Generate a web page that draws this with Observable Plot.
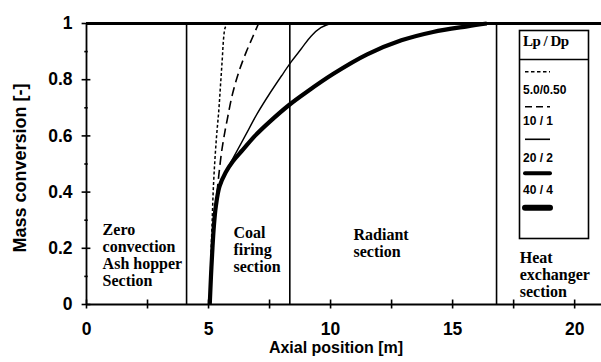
<!DOCTYPE html>
<html>
<head>
<meta charset="utf-8">
<script src="https://cdn.jsdelivr.net/npm/d3@7"></script>
<script src="https://cdn.jsdelivr.net/npm/@observablehq/plot@0.6"></script>
<style>
  html, body { margin: 0; padding: 0; background: #fff; }
  #chart { position: relative; width: 601px; height: 362px; }
</style>
</head>
<body>
<div id="chart"></div>
<script>
// ---- data ----
const xTicks = [0, 5, 10, 15, 20];
const xTickLabels = ["0", "5", "10", "15", "20"];
const xMinorTicks = [2.5, 7.5, 12.5, 17.5];
const yTicks = [0, 0.2, 0.4, 0.6, 0.8, 1];
const yTickLabels = ["0", "0.2", "0.4", "0.6", "0.8", "1"];
const yMinorTicks = [0.1, 0.3, 0.5, 0.7, 0.9];

const sectionBounds = [4.1, 8.33, 16.8];
const sectionLabels = [
  "Zero\nconvection\nAsh hopper\nSection",
  "Coal\nfiring\nsection",
  "Radiant\nsection",
  "Heat\nexchanger\nsection"
];
const sectionLabelX = [0.66, 6.02, 10.94, 17.75];
const sectionLabelY = [0.175, 0.195, 0.22, 0.105];

const seriesNames = ["5.0/0.50", "10 / 1", "20 / 2", "40 / 4"];
const legendTitle = "Lp / Dp";

const dottedX = [5.05, 5.08, 5.11, 5.15, 5.19, 5.25, 5.33, 5.42, 5.49, 5.56, 5.62, 5.68, 5.78];
const dottedY = [0, 0.1, 0.2, 0.3, 0.4, 0.5, 0.6, 0.69, 0.78, 0.87, 0.95, 0.985, 1];

const dashedX = [5.05, 5.1, 5.16, 5.22, 5.29, 5.36, 5.44, 5.53, 5.64, 5.77, 5.97, 6.25, 6.55, 6.8, 7.05];
const dashedY = [0, 0.1, 0.2, 0.28, 0.345, 0.41, 0.475, 0.54, 0.6, 0.66, 0.745, 0.83, 0.9, 0.95, 1];

const thinX = [5.05, 5.1, 5.16, 5.22, 5.3, 5.45, 5.7, 6.0, 6.5, 7.0, 7.5, 8.0, 8.4, 8.8, 9.2, 9.6, 10.0];
const thinY = [0, 0.1, 0.2, 0.28, 0.35, 0.42, 0.47, 0.52, 0.6, 0.68, 0.75, 0.815, 0.865, 0.91, 0.955, 0.985, 1];

const thickX = [5.05, 5.1, 5.16, 5.22, 5.3, 5.45, 5.7, 6.0, 6.4, 6.9, 7.5, 8.3, 9.0, 10.1, 11.5, 12.9, 14.2, 15.6, 16.4];
const thickY = [0, 0.1, 0.2, 0.28, 0.35, 0.42, 0.47, 0.51, 0.55, 0.6, 0.65, 0.71, 0.755, 0.82, 0.89, 0.94, 0.97, 0.99, 1];

// ---- build table ----
function toRows(name, xs, ys) { return xs.map((x, i) => ({series: name, x, y: ys[i]})); }
const rows = [
  ...toRows(seriesNames[0], dottedX, dottedY),
  ...toRows(seriesNames[1], dashedX, dashedY),
  ...toRows(seriesNames[2], thinX, thinY),
  ...toRows(seriesNames[3], thickX, thickY)
];
const styles = {
  [seriesNames[0]]: {strokeWidth: 1.5, strokeDasharray: "3,2.2"},
  [seriesNames[1]]: {strokeWidth: 1.6, strokeDasharray: "9,5"},
  [seriesNames[2]]: {strokeWidth: 1.4, strokeDasharray: null},
  [seriesNames[3]]: {strokeWidth: 4.2, strokeDasharray: null}
};
const labels = sectionLabels.map((t, i) => ({t, x: sectionLabelX[i], y: sectionLabelY[i]}));

const serif = "'Liberation Serif', 'Times New Roman', serif";
const sans = "'Liberation Sans', Arial, sans-serif";

const plot = Plot.plot({
  width: 601,
  height: 362,
  marginLeft: 86,
  marginRight: 0,
  marginTop: 23,
  marginBottom: 58,
  x: {domain: [0, 21.1]},
  y: {domain: [0, 1]},
  style: {fontFamily: sans, fontSize: "17px", fontWeight: "bold", color: "black", background: "white"},
  marks: [
    // section boundaries
    Plot.ruleX(sectionBounds, {x: d => d, y1: 0, y2: 1, stroke: "black", strokeWidth: 1.6}),
    // curves
    ...seriesNames.map(n => Plot.line(rows.filter(r => r.series === n), {
      x: "x", y: "y", stroke: "black", curve: "catmull-rom",
      strokeWidth: styles[n].strokeWidth, strokeDasharray: styles[n].strokeDasharray,
      strokeLinecap: "butt", strokeLinejoin: "round"
    })),
    // frame
    Plot.ruleY([0], {stroke: "black", strokeWidth: 1.8}),
    Plot.ruleY([1], {stroke: "black", strokeWidth: 3.2}),
    Plot.ruleX([0], {y1: 0, y2: 1, stroke: "black", strokeWidth: 1.8}),
    // tick marks crossing the axes
    Plot.ruleX([...xTicks, ...xMinorTicks], {x: d => d, y1: -0.016, y2: 0.016, stroke: "black", strokeWidth: 1.6}),
    Plot.ruleY(yTicks, {y: d => d, x1: -0.18, x2: 0.18, stroke: "black", strokeWidth: 1.6}),
    Plot.ruleY(yMinorTicks, {y: d => d, x1: -0.07, x2: 0.07, stroke: "black", strokeWidth: 1.6}),
    // axes labels
    Plot.axisX(xTicks, {tickSize: 0, tickPadding: 18, tickFormat: (d, i) => xTickLabels[i], label: null, fontSize: 17.5, fontWeight: "bold"}),
    Plot.axisY(yTicks, {tickSize: 0, tickPadding: 14, tickFormat: (d, i) => yTickLabels[i], label: null, fontSize: 17.5, fontWeight: "bold"}),
    // section labels
    Plot.text(labels, {
      x: "x", y: "y", text: "t", textAnchor: "start", lineAnchor: "middle",
      lineHeight: 1.06, fontFamily: serif, fontSize: 16, fontWeight: "bold", fill: "black"
    })
  ]
});

const svg = d3.select(plot);
// axis titles
svg.append("text")
  .attr("transform", "translate(20,168) rotate(-90)")
  .attr("text-anchor", "middle").attr("dy", "0.35em")
  .style("font-family", sans).style("font-size", "18px").style("font-weight", "bold")
  .text("Mass conversion [-]");
svg.append("text")
  .attr("x", 336).attr("y", 347)
  .attr("text-anchor", "middle").attr("dy", "0.35em")
  .style("font-family", sans).style("font-size", "16px").style("font-weight", "bold")
  .text("Axial position [m]");

// legend box
const lg = svg.append("g").attr("text-anchor", "start");
lg.append("rect").attr("x", 519.5).attr("y", 30.5).attr("width", 69).attr("height", 208)
  .attr("fill", "white").attr("stroke", "black").attr("stroke-width", 1.6);
lg.append("line").attr("x1", 519.5).attr("x2", 588.5).attr("y1", 59.5).attr("y2", 59.5)
  .attr("stroke", "black").attr("stroke-width", 1.4);
lg.append("text").attr("x", 523).attr("y", 41).attr("dy", "0.35em")
  .attr("text-anchor", "start")
  .style("font-family", serif).style("font-size", "15px").style("font-weight", "bold")
  .style("letter-spacing", "-0.5px")
  .text(legendTitle);
const sampleYs = [71.7, 106.7, 139.3, 173.3, 207.7];
const sampleW = [1.5, 1.6, 1.6, 4, 6];
const sampleDash = ["3.5,2.5", "7,4", null, null, null];
sampleYs.forEach((y, i) => {
  lg.append("line").attr("x1", 525).attr("x2", 550).attr("y1", y).attr("y2", y)
    .attr("stroke", "black").attr("stroke-width", sampleW[i])
    .attr("stroke-dasharray", sampleDash[i]).attr("stroke-linecap", i >= 3 ? "round" : "butt");
});
const labelYs = [89.3, 120.7, 157.3, 190];
seriesNames.forEach((n, i) => {
  lg.append("text").attr("x", 523).attr("y", labelYs[i]).attr("dy", "0.35em")
    .attr("text-anchor", "start")
    .style("font-family", sans).style("font-size", "12px").style("font-weight", "bold")
    .text(n);
});

document.getElementById("chart").appendChild(plot);
</script>
</body>
</html>
